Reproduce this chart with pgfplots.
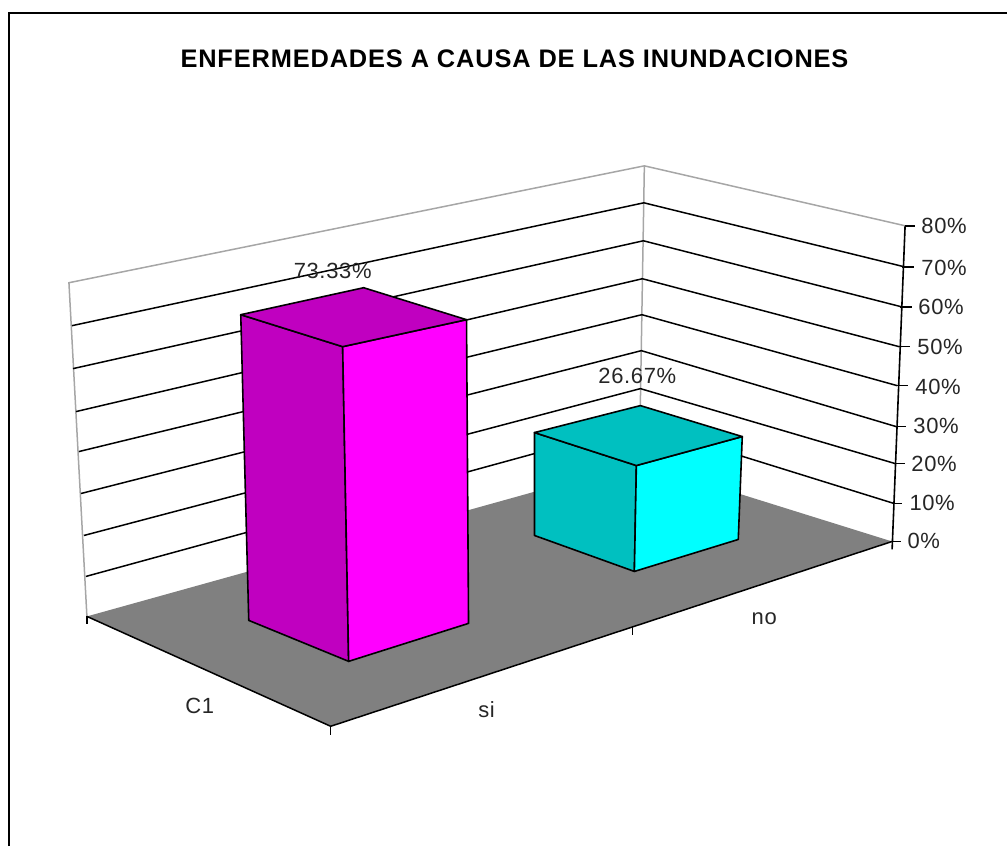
\documentclass[border=0pt]{standalone}
\usepackage{pgfplots}
\pgfplotsset{compat=1.18}
\usepackage{fontspec}
\setmainfont{Liberation Sans}
\definecolor{floorgray}{HTML}{808080}
\definecolor{wallgray}{HTML}{A6A6A6}
\definecolor{magd}{HTML}{C000C0}
\definecolor{magl}{HTML}{FF00FF}
\definecolor{cyand}{HTML}{00C0C0}
\definecolor{cyanl}{HTML}{00FFFF}
\tikzset{
  face/.style={draw=black, line width=0.8pt, line join=round},
  grid3d/.style={black, line width=0.75pt},
  wall/.style={wallgray, line width=0.75pt},
  tickm/.style={black, line width=0.8pt},
  lbl/.style={font=\fontsize{11pt}{12pt}\selectfont\addfontfeature{LetterSpace=3}, text=black!85, inner sep=0pt},
}
\begin{document}
\begin{tikzpicture}
\begin{axis}[
  scale only axis, width=504pt, height=423.5pt,
  xmin=0, xmax=1008, ymin=0, ymax=847, y dir=reverse,
  hide axis, clip=false,
]
% page extent
\path (axis cs:0,0) rectangle (axis cs:1008,847);
% frame
\addplot[black, line width=1pt] coordinates {(9,847) (9,13) (1008,13)};
% floor
\addplot[fill=floorgray, draw=none] coordinates {(87,617) (640,463) (893,542) (331,727)} -- cycle;
\addplot[black, line width=0.75pt] coordinates {(87,617) (331,727) (893,542)};
% walls: outline
\addplot[wall] coordinates {(87,617) (69,283) (645,166) (906,226)};
\addplot[wall] coordinates {(645,166) (640,463)};
% gridlines: left end, back corner, right end
\addplot[grid3d] coordinates {(72,326) (644.5,203) (905,267)};
\addplot[grid3d] coordinates {(73,369) (644,241) (902,307)};
\addplot[grid3d] coordinates {(76,412) (643,279) (900,347)};
\addplot[grid3d] coordinates {(79,452) (642.5,315) (898,386)};
\addplot[grid3d] coordinates {(81,494) (642,351) (897,427)};
\addplot[grid3d] coordinates {(84,536) (641,389) (896,464)};
\addplot[grid3d] coordinates {(86,577) (641,425) (895,504)};
% value axis and ticks
\addplot[tickm] coordinates {(906,226) (893,550)};
\addplot[tickm] coordinates {(906,226) (916,226)};
\addplot[tickm] coordinates {(903,267) (915,267)};
\addplot[tickm] coordinates {(901,307) (913,307)};
\addplot[tickm] coordinates {(899,347) (911,347)};
\addplot[tickm] coordinates {(897,386) (909,386)};
\addplot[tickm] coordinates {(896,427) (907,427)};
\addplot[tickm] coordinates {(895,464) (906,464)};
\addplot[tickm] coordinates {(894,504) (903,504)};
\addplot[tickm] coordinates {(891,542) (902,542)};
% category ticks
\addplot[tickm] coordinates {(87,617) (87,625)};
\addplot[tickm] coordinates {(331,727) (331,736)};
\addplot[tickm] coordinates {(633,627) (633,636)};
% bar "si"
\addplot[face, fill=magd] coordinates {(241,315) (343,347) (349,662) (249,621)} -- cycle;
\addplot[face, fill=magl] coordinates {(343,347) (467,320) (469,624) (349,662)} -- cycle;
\addplot[face, fill=magd] coordinates {(241,315) (364,288) (467,320) (343,347)} -- cycle;
% bar "no"
\addplot[face, fill=cyand] coordinates {(535,433) (637,466) (635,572) (535,536)} -- cycle;
\addplot[face, fill=cyanl] coordinates {(637,466) (743,437) (739,540) (635,572)} -- cycle;
\addplot[face, fill=cyand] coordinates {(535,433) (641,406) (743,437) (637,466)} -- cycle;
% texts
\node[font=\fontsize{12.7pt}{14pt}\selectfont\bfseries\addfontfeature{LetterSpace=3.4}, inner sep=0pt] at (axis cs:515,59) {ENFERMEDADES A CAUSA DE LAS INUNDACIONES};
\node[lbl] at (axis cs:333,271) {73.33\%};
\node[lbl] at (axis cs:638,376) {26.67\%};
\node[lbl] at (axis cs:200,707) {C1};
\node[lbl] at (axis cs:487,710) {si};
\node[lbl] at (axis cs:765,619) {no};
\node[lbl, anchor=west] at (axis cs:922,226) {80\%};
\node[lbl, anchor=west] at (axis cs:922,268) {70\%};
\node[lbl, anchor=west] at (axis cs:919,307) {60\%};
\node[lbl, anchor=west] at (axis cs:918,347) {50\%};
\node[lbl, anchor=west] at (axis cs:916,387) {40\%};
\node[lbl, anchor=west] at (axis cs:914,426) {30\%};
\node[lbl, anchor=west] at (axis cs:912,464) {20\%};
\node[lbl, anchor=west] at (axis cs:910,503) {10\%};
\node[lbl, anchor=west] at (axis cs:908,541) {0\%};
\end{axis}
\end{tikzpicture}
\end{document}
